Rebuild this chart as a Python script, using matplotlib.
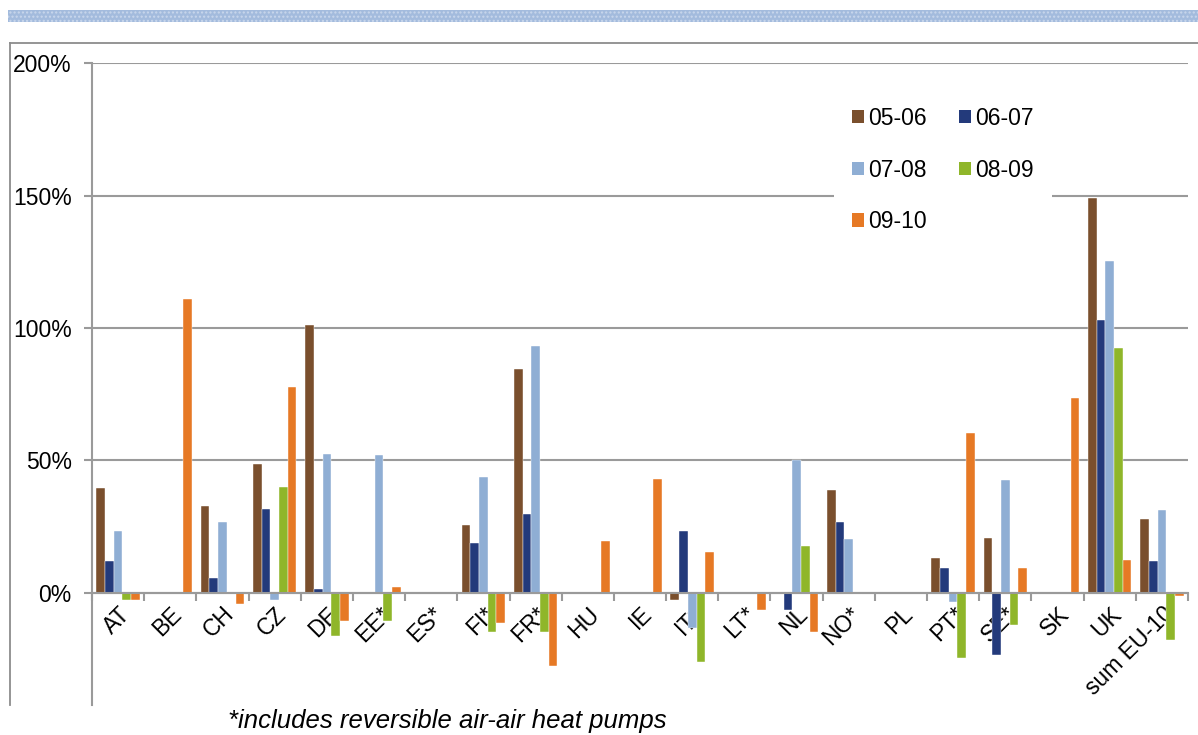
import matplotlib.pyplot as plt
import numpy as np
from matplotlib.patches import Rectangle, Patch
from matplotlib.lines import Line2D

plt.rcParams['font.family'] = ['Liberation Sans', 'DejaVu Sans']

countries = ["AT", "BE", "CH", "CZ", "DE", "EE*", "ES*", "FI*", "FR*", "HU", "IE",
             "IT*", "LT*", "NL", "NO*", "PL", "PT*", "SE*", "SK", "UK", "sum EU-10"]
periods = ["05-06", "06-07", "07-08", "08-09", "09-10"]

# growth rates in %
g0506 = [39.4, 0, 32.8, 48.5, 101.0, 0, 0, 25.7, 84.5, 0, 0, -2.9, 0, 0, 38.9, 0, 13.1, 20.7, 0, 149.2, 28.0]
g0607 = [12.0, 0, 5.7, 31.5, 1.6, 0, 0, 18.9, 29.8, 0, 0, 23.2, 0, -6.6, 26.8, 0, 9.4, -23.4, 0, 103.0, 11.9]
g0708 = [23.3, 0, 26.8, -2.9, 52.5, 52.0, 0, 43.6, 93.2, 0, 0, -13.3, 0, 50.2, 20.2, 0, -3.6, 42.5, 0, 125.5, 31.1]
g0809 = [-2.9, 0, -0.6, 40.0, -16.2, -10.8, 0, -15.0, -15.0, 0, 0, -26.0, 0, 17.8, -0.6, 0, -24.7, -12.1, 0, 92.5, -17.7]
g0910 = [-2.9, 111.0, -4.2, 77.9, -10.8, 2.1, 0, -11.5, -27.5, 19.6, 43.1, 15.5, -6.6, -15.0, 0, 0, 60.5, 9.4, 73.5, 12.4, -1.2]
series = [g0506, g0607, g0708, g0809, g0910]
colors = ["#7A4F2D", "#233A7B", "#8FAED4", "#8FB62A", "#E67925"]

yticks = [0, 50, 100, 150, 200]
ytick_labels = ["0%", "50%", "100%", "150%", "200%"]
footnote = "*includes reversible air-air heat pumps"

W, H = 1198, 735
fig = plt.figure(figsize=(W / 100, H / 100), dpi=100)
ax = fig.add_axes([92 / W, 1 - 705 / H, (1188 - 92) / W, (705 - 63.3) / H])

x = np.arange(len(countries))
bw = 1 / 6
for k, (vals, c) in enumerate(zip(series, colors)):
    ax.bar(x + (k - 2) * bw, vals, bw, color=c, edgecolor="white", linewidth=0.3,
           label=periods[k], zorder=2)

ax.set_xlim(-0.5, len(countries) - 0.5)
ax.set_ylim(-42.4, 200)
ax.set_yticks(yticks)
ax.set_yticklabels(ytick_labels, fontsize=16.5)
ax.yaxis.grid(True, color="#9a9a9a", linewidth=1.5)
ax.set_axisbelow(True)

for s in ["top", "right"]:
    ax.spines[s].set_visible(False)
ax.spines["left"].set_color("#9a9a9a")
ax.spines["left"].set_linewidth(1.5)
ax.spines["bottom"].set_position(("data", 0))
ax.spines["bottom"].set_color("#9a9a9a")
ax.spines["bottom"].set_linewidth(1.5)
ax.spines["bottom"].set_zorder(3)

ax.set_xticks(x)
ax.set_xticklabels(countries, fontsize=16.5, rotation=45, ha="right",
                   rotation_mode="anchor", va="top")
ax.tick_params(axis="x", which="major", length=0, pad=7)
ax.set_xticks(np.arange(-0.5, len(countries), 1), minor=True)
ax.tick_params(axis="x", which="minor", length=6, width=1.5, color="#9a9a9a")
ax.tick_params(axis="y", length=6, width=1.5, color="#9a9a9a", pad=8.5)

handles = [Patch(facecolor=c, edgecolor="none") for c in colors]
order = [0, 2, 4, 1, 3]
leg = ax.legend([handles[i] for i in order], [periods[i] for i in order], ncol=2,
                loc="center", bbox_to_anchor=(943 / W, 1 - 170 / H),
                bbox_transform=fig.transFigure, fontsize=16.5, frameon=True,
                facecolor="white", edgecolor="none", framealpha=1, fancybox=False,
                handlelength=0.5, handleheight=0.5, handletextpad=0.2,
                columnspacing=1.4, labelspacing=1.25, borderpad=0.8)

# decorative top stripe and outer frame
fig.patches.append(Rectangle((8 / W, 1 - 22 / H), 1190 / W, 12 / H, transform=fig.transFigure,
                             facecolor="#a3bbdd", edgecolor="#c9d7ec", hatch="....",
                             linewidth=0))
fig.lines.append(Line2D([10 / W, 1], [1 - 43 / H, 1 - 43 / H], transform=fig.transFigure,
                        color="#8c8c8c", linewidth=1.3))
fig.lines.append(Line2D([10 / W, 10 / W], [1 - 43 / H, 1 - 705 / H], transform=fig.transFigure,
                        color="#8c8c8c", linewidth=1.3))

fig.text(228 / W, 1 - 728 / H, footnote, fontsize=18.5, style="italic", ha="left", va="baseline")

fig.savefig("out.png", dpi=100)
